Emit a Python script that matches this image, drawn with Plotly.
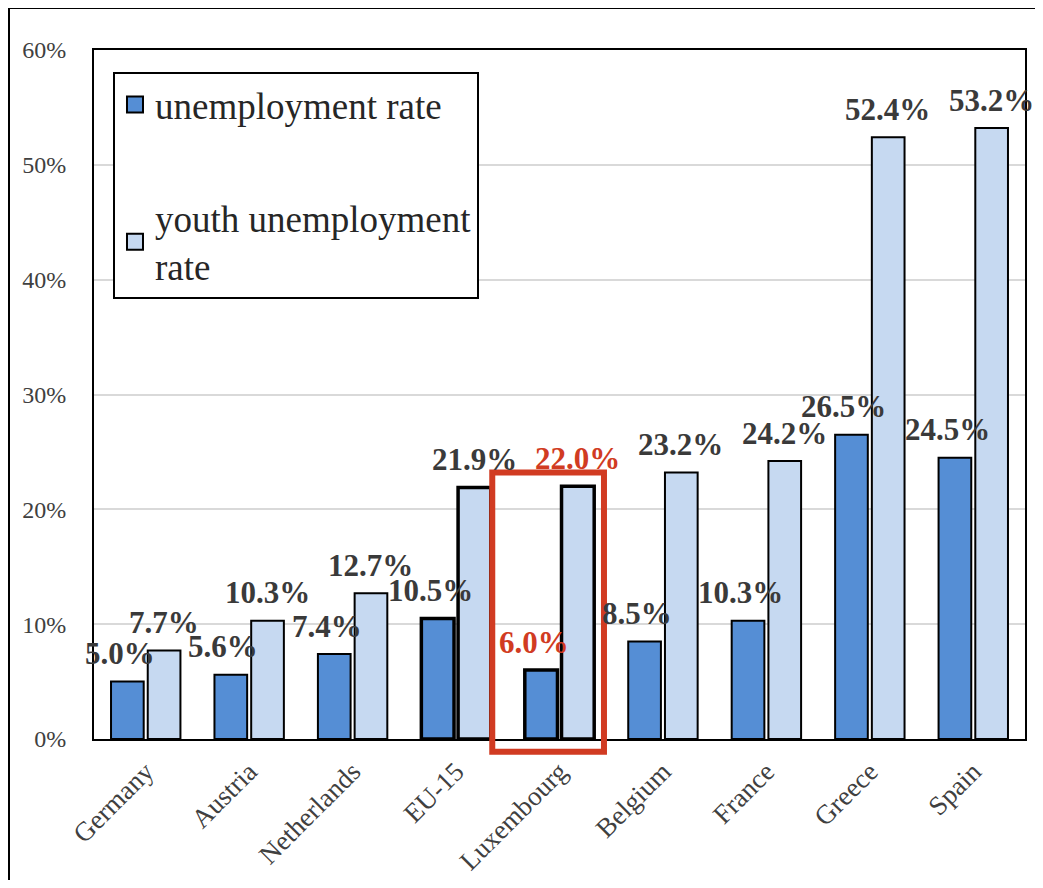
import plotly.graph_objects as go

categories = ["Germany", "Austria", "Netherlands", "EU-15", "Luxembourg",
              "Belgium", "France", "Greece", "Spain"]
unemployment = [5.0, 5.6, 7.4, 10.5, 6.0, 8.5, 10.3, 26.5, 24.5]
youth_unemployment = [7.7, 10.3, 12.7, 21.9, 22.0, 23.2, 24.2, 52.4, 53.2]
y_ticks = [0, 10, 20, 30, 40, 50, 60]
highlight = "Luxembourg"
highlight_top = 23.2
highlight_bottom = -1.1

DARK = "#558ED5"
LIGHT = "#C6D9F1"
RED = "#D13B22"
LABEL = "#3A3A3A"
SERIF = "Liberation Serif, Times New Roman, serif"
Y_MAX = 60

outline_w = [3.5 if c in ("EU-15", highlight) else 2 for c in categories]
label_col = [RED if c == highlight else LABEL for c in categories]

fig = go.Figure()
fig.add_trace(go.Bar(x=categories, y=unemployment, name="unemployment rate",
                     marker=dict(color=DARK, line=dict(color="black", width=outline_w)),
                     showlegend=False))
fig.add_trace(go.Bar(x=categories, y=youth_unemployment, name="youth unemployment rate",
                     marker=dict(color=LIGHT, line=dict(color="black", width=outline_w)),
                     showlegend=False))
# legend entries
fig.add_trace(go.Scatter(x=[None], y=[None], mode="markers", name="unemployment rate",
                         legendgroup="a",
                         marker=dict(symbol="square", size=16, color=DARK,
                                     line=dict(color="black", width=2))))
fig.add_trace(go.Scatter(x=[None], y=[None], mode="markers", name="youth unemployment<br>rate",
                         legendgroup="b",
                         marker=dict(symbol="square", size=16, color=LIGHT,
                                     line=dict(color="black", width=2))))

for c, v, col in zip(categories, unemployment, label_col):
    fig.add_annotation(x=c, y=v, text=f"{v:.1f}%", showarrow=False, xshift=-26, yshift=28,
                       yanchor="middle", font=dict(family=SERIF, size=31, color=col, weight="bold"))
for c, v, col in zip(categories, youth_unemployment, label_col):
    fig.add_annotation(x=c, y=v, text=f"{v:.1f}%", showarrow=False, xshift=18, yshift=28,
                       yanchor="middle", font=dict(family=SERIF, size=31, color=col, weight="bold"))

# highlight box around Luxembourg (extends below the axis)
hi = categories.index(highlight)
fig.add_shape(type="rect", xref="x", yref="paper", x0=hi - 0.65, x1=hi + 0.43,
              y0=highlight_bottom / Y_MAX, y1=highlight_top / Y_MAX,
              line=dict(color=RED, width=6), layer="above")
# outer chart frame
fig.add_shape(type="rect", xref="paper", yref="paper", x0=-0.0913, x1=1.2, y0=-0.4, y1=1.061,
              line=dict(color="black", width=2), layer="above")

fig.update_layout(
    width=1027, height=872,
    margin=dict(l=86, r=10, t=42, b=141, autoexpand=False),
    paper_bgcolor="white", plot_bgcolor="white",
    barmode="group", bargap=0.29, bargroupgap=0.11,
    font=dict(family=SERIF, color="#404040"),
    legend=dict(x=0.0204, y=0.968, xanchor="left", yanchor="top",
                bordercolor="black", borderwidth=2, bgcolor="white",
                font=dict(family=SERIF, size=37, color="#262626"),
                traceorder="grouped", tracegroupgap=62),
)
fig.update_yaxes(range=[0, Y_MAX], tickvals=y_ticks, ticktext=[f"{t}%" for t in y_ticks],
                 showgrid=True, gridcolor="#D9D9D9", gridwidth=2, automargin=False,
                 showline=True, linecolor="black", linewidth=2, mirror=True,
                 ticks="", ticklabelstandoff=21, tickfont=dict(size=24, color="#404040"),
                 zeroline=False)
fig.update_xaxes(range=[-0.5, len(categories) - 0.5], autorange=False, automargin=False,
                 tickangle=-45, showline=True, linecolor="black", linewidth=2, mirror=True,
                 tickfont=dict(size=27, color="#404040"), ticks="", ticklabelstandoff=4)

fig.write_html("out.html")
